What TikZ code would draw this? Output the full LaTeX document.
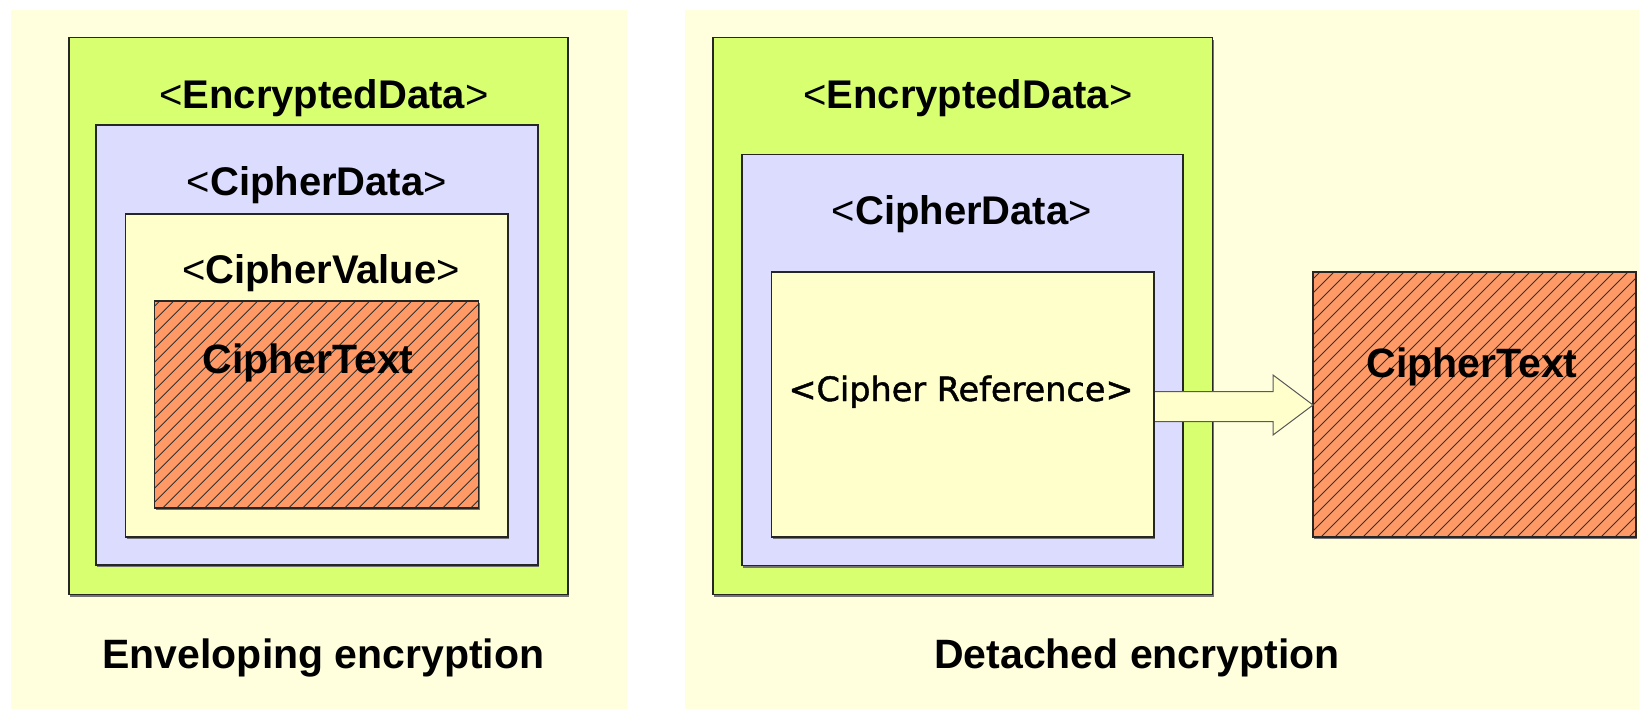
\documentclass[tikz,border=0pt]{standalone}
\usepackage{fontspec}
\setmainfont{Liberation Sans}
\newfontfamily\refont[FakeBold=1.3]{DejaVu Sans}

\definecolor{panelbg}{HTML}{FFFFDE}
\definecolor{encgreen}{HTML}{D8FF70}
\definecolor{ciphblue}{HTML}{DCDCFF}
\definecolor{valyellow}{HTML}{FFFFCC}
\definecolor{ctorange}{HTML}{FF9966}

\tikzset{
  box/.style={draw=black!85, line width=1.1pt, inner sep=0pt, outer sep=0pt,
    anchor=north west,
    preaction={fill=black!55, transform canvas={xshift=1pt, yshift=-2pt}}},
  panel/.style={fill=panelbg, draw=none, inner sep=0pt, outer sep=0pt, anchor=north west},
  hatched/.style={box, fill=ctorange},
  hatchline/.style={black!80, line width=0.9pt},
  tag/.style={anchor=base, inner sep=0pt, font=\fontsize{40}{48}\selectfont},
  caption/.style={anchor=base, inner sep=0pt, font=\fontsize{41}{49}\selectfont\bfseries},
  bigarrow/.style={draw=black!65, line width=1pt, fill=valyellow, line join=miter}
}

% diagonal hatching inside a named rectangle node
\newcommand\hatchnode[1]{%
  \begin{scope}
    \clip (#1.south west) rectangle (#1.north east);
    \foreach \i in {0,...,45}{
      \draw[hatchline] ($(#1.south west)+(\i*14-300,0)$) -- ++(400,-400);
    }
  \end{scope}
  \draw[black!85, line width=1.1pt] (#1.south west) rectangle (#1.north east);
}
\usetikzlibrary{calc}

\begin{document}
\begin{tikzpicture}[x=1pt, y=-1pt]
\useasboundingbox (0,0) rectangle (1639,709);
\fill[white] (0,0) rectangle (1639,709);

% two panels
\node[panel, minimum width=616.5pt, minimum height=699pt] (pl) at (10.5,10) {};
\node[panel, minimum width=954pt, minimum height=699pt] (pr) at (685,10) {};

% ---- enveloping encryption ----
\node[box, fill=encgreen, minimum width=499pt, minimum height=557pt] (encL) at (69,37.6) {};
\node[box, fill=ciphblue, minimum width=442pt, minimum height=440pt] (cdL) at (96,125) {};
\node[box, fill=valyellow, minimum width=382.5pt, minimum height=323pt] (cvL) at (125.5,214) {};
\node[hatched, minimum width=324pt, minimum height=207pt] (ctL) at (154.7,301) {};
\hatchnode{ctL}

\node[tag] (tEncL) at (324,108) {<\textbf{EncryptedData}>};
\node[tag] (tCdL) at (317,195) {<\textbf{CipherData}>};
\node[tag] (tCvL) at (321,283) {<\textbf{CipherValue}>};
\node[caption] (tCtL) at (308,373) {CipherText};
\node[caption] (capL) at (323.5,668) {Enveloping encryption};

% ---- detached encryption ----
\node[box, fill=encgreen, minimum width=499.5pt, minimum height=557pt] (encR) at (713,37.6) {};
\node[box, fill=ciphblue, minimum width=441pt, minimum height=411pt] (cdR) at (742,154.7) {};
\node[box, fill=valyellow, minimum width=382.5pt, minimum height=265pt] (crR) at (771.5,272) {};
\node[hatched, minimum width=323pt, minimum height=265pt] (ctR) at (1313,272) {};
\hatchnode{ctR}

\node[tag] (tEncR) at (968,108) {<\textbf{EncryptedData}>};
\node[tag] (tCdR) at (962,224) {<\textbf{CipherData}>};
\node[anchor=base, inner sep=0pt, font=\fontsize{33.5}{40}\selectfont\refont] (tCrR) at (961,401) {<Cipher Reference>};
\node[caption] (tCtR) at (1472,377) {CipherText};
\node[caption] (capR) at (1137,668) {Detached encryption};

% block arrow from the reference to the detached cipher text
\coordinate (aTip) at (ctR.west |- 0,405);
\draw[bigarrow]
  (crR.east |- 0,391.5) -- (1273,391.5) -- (1273,375) -- (aTip)
  -- (1273,435) -- (1273,421.5) -- (crR.east |- 0,421.5);
\draw[black!85, line width=1.1pt] (crR.north east) -- (crR.south east);
\end{tikzpicture}
\end{document}
